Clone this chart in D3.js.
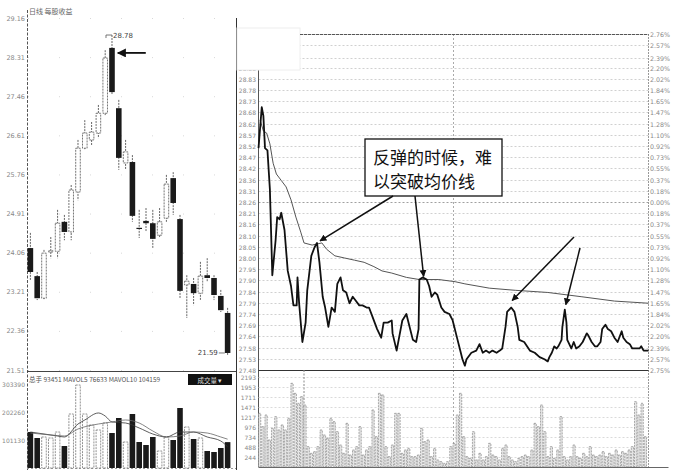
<!DOCTYPE html>
<html><head><meta charset="utf-8">
<script src="https://cdn.jsdelivr.net/npm/d3@7/dist/d3.min.js"></script>
<style>body{margin:0;background:#fff}svg{display:block}</style>
</head><body>
<svg id="c" width="683" height="475"></svg>
<script>
// ---------- DATA ----------
const dailyOpen  = [24.16,23.55,23.07,24.08,24.09,24.73,24.51,25.38,26.33,26.51,26.66,27.09,28.51,27.20,26.01,26.03,24.60,24.75,24.70,24.44,24.81,25.68,24.79,23.36,23.38,23.18,23.57,23.51,23.12,22.75];
const dailyHigh  = [24.49,23.64,24.12,24.40,24.99,24.88,25.53,26.51,26.94,26.90,27.27,28.46,28.79,27.38,26.51,26.18,24.99,25.03,24.99,25.03,25.75,25.81,24.88,23.57,23.51,23.86,23.94,23.57,23.25,22.86];
const dailyLow   = [23.45,23.03,23.05,23.94,23.94,24.33,24.33,25.20,26.29,26.40,26.55,27.05,27.49,25.86,25.86,24.73,24.38,24.51,24.16,24.38,24.73,24.88,23.07,22.64,22.92,23.03,23.42,23.03,22.77,21.83];
const dailyClose = [23.64,23.07,24.05,24.10,24.70,24.51,25.42,26.33,26.66,26.68,27.09,28.29,27.55,26.12,26.25,24.86,24.58,24.70,24.36,24.73,25.55,25.14,23.23,23.44,23.18,23.55,23.51,23.14,22.81,21.88];
const dailyVolume = [130000,108350,111960,108350,130000,79460,195030,299770,195030,155300,137250,162530,126410,180590,93900,195030,93900,83070,111960,61400,111960,101130,216700,148080,104740,108350,61400,57790,72230,93451];
const dailyMA5  = [[0,130000],[4,115600],[5,112000],[7,158900],[8,173400],[10,198700],[11,187800],[12,166200],[14,162500],[16,144500],[18,122800],[20,112000],[22,130000],[24,130000],[26,112000],[28,97500],[29,76633]];
const dailyMA10 = [[0,126400],[3,119200],[5,115600],[7,140900],[10,158900],[12,166200],[14,173400],[16,162500],[18,133600],[20,112000],[22,115600],[24,130000],[26,126400],[28,112000],[29,104159]];
const dailyPriceTicks = ["29.16","28.31","27.46","26.61","25.76","24.91","24.06","23.21","22.36","21.51"];
const dailyVolTicks = ["303390","202260","101130"];
const dailyHighLabel = "28.78";
const dailyLowLabel = "21.59";
const dailyTitle = "日线 每股收益";
const volHeader = "总手 93451 MAVOL5 76633 MAVOL10 104159";
const volButton = "成交量 ▾";

const intradayPrice = [[0,28.51],[2,28.70],[3,28.66],[4,28.51],[5.5,28.50],[7,28.32],[8.5,27.92],[10.5,28.08],[11.5,28.19],[13,28.18],[14,28.21],[16,28.13],[18,27.94],[20,27.87],[21.5,27.78],[23.5,27.78],[24,27.91],[25,27.79],[27,27.61],[29,27.70],[30,27.85],[32.5,28.01],[34.5,28.05],[36,28.07],[37.5,27.98],[39.5,27.82],[41,27.77],[43,27.68],[45,27.77],[47,27.75],[48.5,27.88],[50.5,27.91],[52,27.85],[54,27.84],[56,27.79],[58,27.82],[60,27.80],[62,27.78],[64,27.78],[66.5,27.77],[68,27.77],[70,27.73],[73,27.67],[75.5,27.63],[77,27.70],[79.5,27.70],[82,27.71],[82.5,27.65],[85,27.57],[87,27.65],[88.5,27.71],[91,27.74],[93,27.68],[95,27.62],[97,27.61],[98.5,27.67],[99,27.90],[101,27.91],[103.5,27.90],[105,27.87],[106.5,27.82],[108.5,27.84],[110,27.83],[112.5,27.77],[114.5,27.75],[117.5,27.74],[119.5,27.71],[120.5,27.68],[122.5,27.62],[124.5,27.56],[125.5,27.53],[127,27.50],[128,27.53],[131,27.56],[134,27.57],[136,27.60],[138,27.56],[140,27.57],[142,27.56],[144,27.57],[146.5,27.56],[148.5,27.57],[150,27.58],[152,27.68],[153,27.75],[155.5,27.77],[157.5,27.75],[159.5,27.68],[160.5,27.62],[163.5,27.61],[167,27.57],[170,27.56],[173,27.54],[176,27.53],[178,27.52],[179,27.54],[180.5,27.56],[182,27.59],[183.5,27.58],[184.5,27.59],[186.5,27.62],[187,27.68],[188.5,27.76],[189.5,27.70],[190,27.62],[192.5,27.58],[194,27.61],[195.5,27.58],[197.5,27.59],[199.5,27.61],[202,27.65],[203,27.64],[205,27.61],[207,27.59],[208.5,27.59],[210.5,27.61],[211.5,27.67],[213.5,27.69],[215,27.67],[217,27.66],[219,27.63],[221,27.61],[223.5,27.66],[224.5,27.63],[226.5,27.61],[228.5,27.60],[230,27.58],[232.5,27.58],[234.5,27.58],[235.5,27.59],[237,27.57],[240,27.57]];
const intradayAvg = [[1,28.64],[3,28.59],[5,28.58],[7,28.53],[9,28.44],[11,28.39],[14,28.36],[17,28.33],[20,28.27],[23,28.19],[26,28.12],[28,28.07],[33,28.06],[39,28.07],[42,28.04],[47,28.01],[53,28.00],[59,27.99],[65,27.98],[71,27.96],[76,27.94],[82,27.93],[91,27.91],[99,27.90],[111,27.90],[121,27.89],[127,27.88],[142,27.86],[158,27.85],[178,27.84],[199,27.82],[219,27.80],[240,27.79]];
const intradayPriceTicks = [29.04,28.99,28.93,28.88,28.83,28.78,28.73,28.68,28.62,28.57,28.52,28.47,28.42,28.36,28.31,28.26,28.21,28.16,28.10,28.05,28.00,27.95,27.90,27.84,27.79,27.74,27.69,27.64,27.58,27.53,27.48];
const intradayPctTicks = ["2.76%","2.57%","2.39%","2.20%","2.02%","1.84%","1.65%","1.47%","1.28%","1.10%","0.92%","0.73%","0.55%","0.37%","0.18%","0.00%","0.18%","0.37%","0.55%","0.73%","0.92%","1.10%","1.28%","1.47%","1.65%","1.84%","2.02%","2.20%","2.39%","2.57%","2.75%"];
const intradayVolume = [1308,983,1267,658,942,1227,902,1024,902,1186,2039,1795,1552,1714,1511,496,333,374,496,902,780,699,1186,1105,861,536,333,1064,292,414,496,983,292,414,496,1389,739,1795,1755,496,252,536,1308,1308,333,414,455,252,252,292,942,617,658,252,455,171,130,89,130,496,577,1267,1795,739,252,211,861,171,333,171,252,577,292,252,171,455,536,252,171,130,211,252,292,252,414,1064,983,1511,861,252,496,211,414,1227,252,171,252,536,252,211,333,252,496,292,252,292,374,252,333,292,414,292,374,333,414,496,1592,1267,1552,739];
const intradayVolTicks = [2193,1953,1711,1471,1217,976,734,488,244];
const noteLines = ["反弹的时候，难","以突破均价线"];
// arrow targets on the intraday line (minute, price)
const noteTargets = [[36,28.07],[101,27.91],[155.5,27.77],[188.5,27.76]];

// ---------- DRAW ----------
const svg = d3.select("#c");
const small = "DejaVu Sans, sans-serif";
const cjk = "Noto Sans CJK SC, sans-serif";
svg.append("defs").html(`
 <marker id="ah" viewBox="0 0 10 10" refX="9" refY="5" markerWidth="7" markerHeight="7" orient="auto" markerUnits="userSpaceOnUse"><path d="M0,0L10,5L0,10z" fill="#111"/></marker>
 <marker id="ah2" viewBox="0 0 10 10" refX="9" refY="5" markerWidth="10" markerHeight="9" orient="auto" markerUnits="userSpaceOnUse"><path d="M0,0L10,5L0,10z" fill="#111"/></marker>`);
const g = svg.append("g");

// ===== Daily panel =====
const dx = d3.scaleBand().domain(d3.range(dailyOpen.length)).range([27.6, 230.4]).paddingInner(0.18);
const dy = d3.scaleLinear().domain([21.51, 29.16]).range([370, 18]);
const dvy = d3.scaleLinear().domain([0, 303390]).range([468, 384]);
const bw = dx.bandwidth();

dailyPriceTicks.forEach(t => {
  g.append("line").attr("x1",28).attr("x2",235).attr("y1",dy(+t)+0.5).attr("y2",dy(+t)+0.5)
   .attr("stroke","#d8d8d8").attr("stroke-dasharray","1,30");
});
g.append("line").attr("x1",27.5).attr("x2",27.5).attr("y1",10).attr("y2",470).attr("stroke","#555").attr("stroke-dasharray","3,1.5");
g.append("line").attr("x1",27).attr("x2",236).attr("y1",371.5).attr("y2",371.5).attr("stroke","#444");
g.append("line").attr("x1",27).attr("x2",236).attr("y1",468.5).attr("y2",468.5).attr("stroke","#999").attr("stroke-dasharray","2,2");

g.selectAll(".dpt").data(dailyPriceTicks).join("text")
  .attr("x",25).attr("y",d=>dy(+d)+2.5).attr("text-anchor","end")
  .attr("font-family",small).attr("font-size",6.5).attr("fill","#888").text(d=>d);
g.append("text").attr("x",29).attr("y",14).attr("font-family",cjk)
  .attr("font-size",7).attr("fill","#666").text(dailyTitle);

// candles
dailyOpen.forEach((o,i) => {
  const c = dailyClose[i], up = c >= o;
  const cx = dx(i) + bw/2;
  g.append("line").attr("x1",cx).attr("x2",cx).attr("y1",dy(dailyHigh[i])).attr("y2",dy(dailyLow[i]))
   .attr("stroke","#555").attr("stroke-width",0.9).attr("stroke-dasharray","2,1");
  const top = dy(Math.max(o,c)), h = Math.max(1.2, Math.abs(dy(o)-dy(c)));
  if (up) {
    g.append("rect").attr("x",dx(i)+0.5).attr("y",top).attr("width",bw-1).attr("height",h)
     .attr("fill","#fff").attr("stroke","#666").attr("stroke-width",0.9).attr("stroke-dasharray","2,1");
  } else {
    g.append("rect").attr("x",dx(i)).attr("y",top).attr("width",bw).attr("height",h).attr("fill","#1a1a1a");
  }
});
const hiIdx = d3.maxIndex(dailyHigh), loIdx = d3.minIndex(dailyLow);
{
  const x = dx(hiIdx) + bw/2, y = dy(dailyHigh[hiIdx]);
  g.append("path").attr("d",`M${x-6},${y+3}V${y}H${x}`).attr("fill","none").attr("stroke","#555").attr("stroke-width",0.8);
  g.append("text").attr("x",x+1).attr("y",y+2.5).attr("font-family",small).attr("font-size",7).attr("fill","#444").text(dailyHighLabel);
  const lx = dx(loIdx), ly = dy(dailyClose[loIdx]);
  g.append("line").attr("x1",lx-6).attr("x2",lx).attr("y1",ly).attr("y2",ly).attr("stroke","#555").attr("stroke-width",0.8);
  g.append("text").attr("x",lx-7).attr("y",ly+2.5).attr("text-anchor","end").attr("font-family",small).attr("font-size",7).attr("fill","#444").text(dailyLowLabel);
  const tipX = dx(hiIdx) + bw + 3, tipY = dy(dailyOpen[hiIdx]) + 5;
  g.append("line").attr("x1",tipX+28).attr("x2",tipX).attr("y1",tipY).attr("y2",tipY)
   .attr("stroke","#111").attr("stroke-width",1.8).attr("marker-end","url(#ah2)");
}

// daily volume
g.selectAll(".dvt").data(dailyVolTicks).join("text")
  .attr("x",25).attr("y",d=>dvy(+d)+2.5).attr("text-anchor","end")
  .attr("font-family",small).attr("font-size",6).attr("fill","#888").text(d=>d);
dailyVolume.forEach((v,i) => {
  const up = dailyClose[i] >= dailyOpen[i];
  const r = g.append("rect").attr("x",dx(i)+(up?0.5:0)).attr("y",dvy(v)).attr("width",up?bw-1:bw).attr("height",dvy(0)-dvy(v));
  if (up) r.attr("fill","#fff").attr("stroke","#777").attr("stroke-width",0.8).attr("stroke-dasharray","2,1");
  else r.attr("fill","#1a1a1a");
});
const maLine = d3.line().x(d=>dx(d[0])+bw/2).y(d=>dvy(d[1])).curve(d3.curveMonotoneX);
g.append("path").attr("d",maLine(dailyMA5)).attr("fill","none").attr("stroke","#333").attr("stroke-width",0.8);
g.append("path").attr("d",maLine(dailyMA10)).attr("fill","none").attr("stroke","#666").attr("stroke-width",0.8);
g.append("text").attr("x",29).attr("y",382).attr("font-family",cjk).attr("font-size",6.5).attr("fill","#555").text(volHeader);
g.append("rect").attr("x",188).attr("y",374).attr("width",44).attr("height",11).attr("fill","#111");
g.append("text").attr("x",210).attr("y",382.5).attr("text-anchor","middle").attr("font-family",cjk).attr("font-size",6.5).attr("fill","#ddd").text(volButton);

g.append("line").attr("x1",236.5).attr("x2",236.5).attr("y1",18).attr("y2",470).attr("stroke","#333");

// ===== Intraday panel =====
const L = 258.5, R = 648.5;
const ix = d3.scaleLinear().domain([0,240]).range([L, R]);
const iy = d3.scaleLinear().domain([27.48, 29.04]).range([370, 34]);
const ivy = d3.scaleLinear().domain([0, 2193]).range([467, 377]);

intradayPriceTicks.forEach((t,k) => {
  const y = Math.round(iy(t)) + 0.5;
  g.append("line").attr("x1",L).attr("x2",R).attr("y1",y).attr("y2",y)
   .attr("stroke", t === 28.26 ? "#888" : "#c4c4c4").attr("stroke-dasharray","2,2").attr("stroke-width",0.8);
  g.append("text").attr("x",256).attr("y",y+2.5).attr("text-anchor","end").attr("font-family",small)
   .attr("font-size",6).attr("fill","#888").text(t.toFixed(2));
  g.append("text").attr("x",650).attr("y",y+2.5).attr("font-family",small)
   .attr("font-size",6.3).attr("fill","#888").text(intradayPctTicks[k]);
});
g.append("line").attr("x1",ix(120)).attr("x2",ix(120)).attr("y1",34).attr("y2",467).attr("stroke","#aaa").attr("stroke-dasharray","2,2");
g.append("line").attr("x1",L).attr("x2",L).attr("y1",34).attr("y2",467).attr("stroke","#555");
g.append("line").attr("x1",R).attr("x2",R).attr("y1",34).attr("y2",467).attr("stroke","#999").attr("stroke-dasharray","2,1");
g.append("line").attr("x1",L).attr("x2",R).attr("y1",370.5).attr("y2",370.5).attr("stroke","#333");
g.append("line").attr("x1",L).attr("x2",R+20).attr("y1",467.5).attr("y2",467.5).attr("stroke","#666");

intradayVolTicks.forEach(t => {
  const y = Math.round(ivy(t)) + 0.5;
  g.append("line").attr("x1",L).attr("x2",R).attr("y1",y).attr("y2",y).attr("stroke","#d0d0d0").attr("stroke-dasharray","2,2").attr("stroke-width",0.8);
  g.append("text").attr("x",256).attr("y",y+2.5).attr("text-anchor","end").attr("font-family",small)
   .attr("font-size",6).attr("fill","#888").text(t);
});
g.append("line").attr("x1",ix(28)).attr("x2",ix(28)).attr("y1",370).attr("y2",467).attr("stroke","#888").attr("stroke-dasharray","2,1.5");
const vb = d3.scaleBand().domain(d3.range(intradayVolume.length)).range([L, R-2]).paddingInner(0.3);
g.selectAll(".iv").data(intradayVolume).join("rect")
  .attr("x",(d,i)=>vb(i)).attr("y",d=>ivy(d)).attr("width",vb.bandwidth()).attr("height",d=>ivy(0)-ivy(d))
  .attr("fill","#e4e4e4").attr("stroke","#777").attr("stroke-width",0.6).attr("stroke-dasharray","2,1");

const pl = d3.line().x(d=>ix(d[0])).y(d=>iy(d[1]));
g.append("path").attr("d",pl(intradayAvg)).attr("fill","none").attr("stroke","#555").attr("stroke-width",1);
g.append("path").attr("d",pl(intradayPrice)).attr("fill","none").attr("stroke","#111").attr("stroke-width",1.8).attr("stroke-linejoin","round");

// white pasted box over the top-left corner
g.append("rect").attr("x",237).attr("y",28).attr("width",63).attr("height",42).attr("fill","#fff").attr("stroke","#eee");
g.append("line").attr("x1",300).attr("x2",R).attr("y1",34.5).attr("y2",34.5).attr("stroke","#555").attr("stroke-dasharray","3,1");

// annotation box + arrows
g.append("rect").attr("x",365).attr("y",139).attr("width",137).attr("height",57).attr("fill","#fff").attr("stroke","#111").attr("stroke-width",1.3);
noteLines.forEach((t,i) => {
  g.append("text").attr("x",373).attr("y",164 + i*24).attr("font-family",cjk)
   .attr("font-size",17).attr("fill","#111").text(t);
});
const tails = [[393,196],[415,196],[574,237],[580,248]];
const offs = [[3,-2],[1,-1],[1,-7],[1,-5]];
noteTargets.forEach((d,i) => {
  g.append("line").attr("x1",tails[i][0]).attr("y1",tails[i][1])
   .attr("x2",ix(d[0])+offs[i][0]).attr("y2",iy(d[1])+offs[i][1])
   .attr("stroke","#111").attr("stroke-width",1.5).attr("marker-end","url(#ah)");
});
</script>
</body></html>
